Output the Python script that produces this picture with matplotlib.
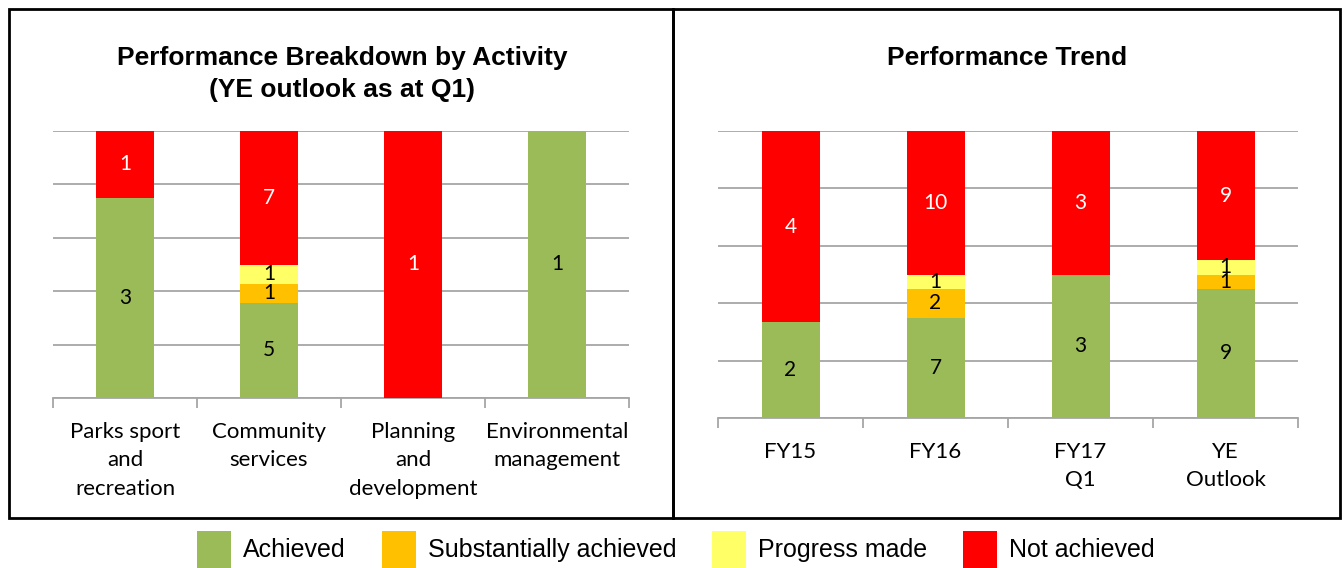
import matplotlib.pyplot as plt
import numpy as np
from matplotlib.patches import Patch, Rectangle

# data
series_names = ["Achieved", "Substantially achieved", "Progress made", "Not achieved"]
colors = ["#9BBB59", "#FFC000", "#FFFF66", "#FF0000"]
text_colors = ["black", "black", "black", "white"]

left_categories = ["Parks sport\nand\nrecreation", "Community\nservices",
                   "Planning\nand\ndevelopment", "Environmental\nmanagement"]
left_achieved = [3, 5, 0, 1]
left_substantial = [0, 1, 0, 0]
left_progress = [0, 1, 0, 0]
left_not_achieved = [1, 7, 1, 0]

right_categories = ["FY15", "FY16", "FY17\nQ1", "YE\nOutlook"]
right_achieved = [2, 7, 3, 9]
right_substantial = [0, 2, 0, 1]
right_progress = [0, 1, 0, 1]
right_not_achieved = [4, 10, 3, 9]

W, H = 1344, 568
label_font = "Lato"
title_font = "Liberation Sans"


def stacked_percent(ax, categories, series):
    series = np.array(series, dtype=float)
    totals = series.sum(axis=0)
    pct = series / totals * 100
    x = np.arange(len(categories))
    bottom = np.zeros(len(categories))
    for i, vals in enumerate(pct):
        ax.bar(x, vals, 0.40, bottom=bottom, color=colors[i], zorder=3)
        for j, v in enumerate(vals):
            if series[i][j] > 0:
                ax.text(x[j], bottom[j] + v / 2, str(int(series[i][j])),
                        ha='center', va='center', color=text_colors[i],
                        fontsize=15, family=label_font, zorder=4)
        bottom += vals

    ax.set_xlim(-0.5, len(categories) - 0.5)
    ax.set_ylim(0, 100)
    ax.set_yticks(np.arange(0, 101, 20))
    ax.yaxis.grid(True, color='#A6A6A6', linewidth=1.3, zorder=0)
    ax.tick_params(axis='y', length=0, labelleft=False)

    # tick marks between categories, labels at bar centres
    ax.set_xticks(np.arange(len(categories) + 1) - 0.5)
    ax.set_xticklabels([])
    ax.tick_params(axis='x', which='major', length=7, width=1.3,
                   color='#A6A6A6', direction='out')
    ax.set_xticks(x, minor=True)
    ax.set_xticklabels(categories, minor=True, fontsize=16,
                       family=label_font, linespacing=1.55)
    ax.tick_params(axis='x', which='minor', length=0, pad=17)

    for s in ['top', 'right', 'left']:
        ax.spines[s].set_visible(False)
    ax.spines['bottom'].set_color('#A6A6A6')
    ax.spines['bottom'].set_linewidth(1.3)


fig = plt.figure(figsize=(W / 100, H / 100), dpi=100)

ax1 = fig.add_axes([53 / W, 1 - 398 / H, 576 / W, 267 / H])
stacked_percent(ax1, left_categories,
                [left_achieved, left_substantial, left_progress, left_not_achieved])

ax2 = fig.add_axes([718 / W, 1 - 418 / H, 580 / W, 287 / H])
stacked_percent(ax2, right_categories,
                [right_achieved, right_substantial, right_progress, right_not_achieved])

fig.text(342 / W, 1 - 46 / H, "Performance Breakdown by Activity\n(YE outlook as at Q1)",
         ha='center', va='top', fontsize=19, fontweight='bold',
         family=title_font, linespacing=1.4)
fig.text(1007 / W, 1 - 46 / H, "Performance Trend",
         ha='center', va='top', fontsize=19, fontweight='bold', family=title_font)

# panel borders
fig.patches.append(Rectangle((9 / W, 1 - 518 / H), 664 / W, 509 / H,
                             transform=fig.transFigure, fill=False,
                             edgecolor='black', linewidth=2))
fig.patches.append(Rectangle((673 / W, 1 - 518 / H), 667 / W, 509 / H,
                             transform=fig.transFigure, fill=False,
                             edgecolor='black', linewidth=2))

handles = [Patch(facecolor=c, edgecolor='none') for c in colors]
fig.legend(handles, series_names, loc='lower center', bbox_to_anchor=(0.503, -0.022),
           ncol=4, frameon=False, prop={'family': title_font, 'size': 18},
           handlelength=1.36, handleheight=1.9, handletextpad=0.48,
           columnspacing=1.44, borderpad=0)

plt.savefig("out.png", dpi=100)
